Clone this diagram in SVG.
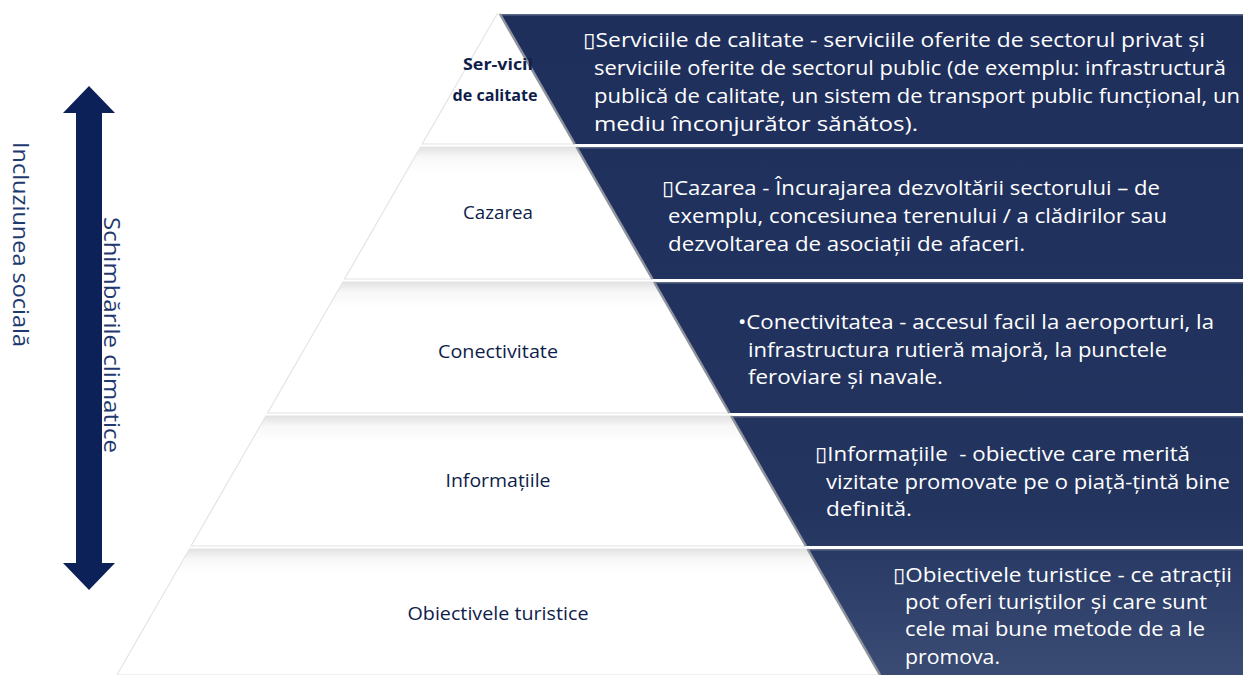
<svg xmlns="http://www.w3.org/2000/svg" width="1243" height="675" viewBox="0 0 1243 675">
<style>
.wb{stroke:#e4e4e4;stroke-width:1.2}
.db{fill:url(#navy)}
.edge{stroke:#8e929c;stroke-width:2.5;fill:none}
.hl{stroke:#5d6888;stroke-width:1.5}
.desc{font-family:"Open Sans","Noto Sans","DejaVu Sans",sans-serif;font-size:20px;fill:#ffffff}
.lbl{font-family:"Open Sans","Noto Sans",sans-serif;font-size:17.5px;fill:#0e1d4a;text-anchor:middle}
.lblb{font-weight:bold;font-size:15.5px}
.side{font-family:"Open Sans","Noto Sans",sans-serif;font-size:22px;fill:#1f3a70}
</style>
<defs>
<linearGradient id="navy" gradientUnits="userSpaceOnUse" x1="0" y1="14" x2="0" y2="675">
<stop offset="0" stop-color="#1f2f5c"/>
<stop offset="0.75" stop-color="#23345f"/>
<stop offset="1" stop-color="#3a4b74"/>
</linearGradient>
<linearGradient id="wfill" x1="0" y1="0" x2="0" y2="1">
<stop offset="0" stop-color="#e2e2e2"/>
<stop offset="0.08" stop-color="#f8f8f8"/>
<stop offset="0.2" stop-color="#ffffff"/>
</linearGradient>
</defs>
<rect width="1243" height="675" fill="#ffffff"/>

<g id="band-servicii">
<polygon class="wb" fill="#ffffff" points="497,14 500,14 574.75,144 422.25,144"/>
<polygon class="db" points="500,14 1243,14 1243,144 574.75,144"/>
<line class="hl" x1="501" y1="14.8" x2="1243" y2="14.8"/>
<line class="edge" x1="500" y1="14" x2="574.75" y2="144"/>
<text class="lbl lblb" x="498" y="70" textLength="70" lengthAdjust="spacingAndGlyphs">Ser-vicii</text>
<text class="lbl lblb" x="495" y="101" textLength="85" lengthAdjust="spacingAndGlyphs">de calitate</text>
<text class="desc" x="583" y="47" textLength="622" lengthAdjust="spacingAndGlyphs">▯Serviciile de calitate - serviciile oferite de sectorul privat și</text>
<text class="desc" x="594" y="75" textLength="632" lengthAdjust="spacingAndGlyphs">serviciile oferite de sectorul public (de exemplu: infrastructură</text>
<text class="desc" x="594" y="103" textLength="646" lengthAdjust="spacingAndGlyphs">publică de calitate, un sistem de transport public funcțional, un</text>
<text class="desc" x="594" y="131" textLength="324" lengthAdjust="spacingAndGlyphs">mediu înconjurător sănătos).</text>
</g>

<g id="band-cazarea">
<polygon class="wb" fill="url(#wfill)" points="420.5,147 576.5,147 652.4,279 344.6,279"/>
<polygon class="db" points="576.5,147 1243,147 1243,279 652.4,279"/>
<line class="hl" x1="578" y1="147.8" x2="1243" y2="147.8"/>
<line class="edge" x1="576.5" y1="147" x2="652.4" y2="279"/>
<text class="lbl" x="498" y="219" textLength="70" lengthAdjust="spacingAndGlyphs">Cazarea</text>
<text class="desc" x="662" y="195" textLength="498" lengthAdjust="spacingAndGlyphs">▯Cazarea - Încurajarea dezvoltării sectorului – de</text>
<text class="desc" x="668" y="223" textLength="499" lengthAdjust="spacingAndGlyphs">exemplu, concesiunea terenului / a clădirilor sau</text>
<text class="desc" x="668" y="251" textLength="357" lengthAdjust="spacingAndGlyphs">dezvoltarea de asociații de afaceri.</text>
</g>

<g id="band-conectivitate">
<polygon class="wb" fill="url(#wfill)" points="342.9,282 654.1,282 729.4,413 267.6,413"/>
<polygon class="db" points="654.1,282 1243,282 1243,413 729.4,413"/>
<line class="hl" x1="656" y1="282.8" x2="1243" y2="282.8"/>
<line class="edge" x1="654.1" y1="282" x2="729.4" y2="413"/>
<text class="lbl" x="498" y="358" textLength="120" lengthAdjust="spacingAndGlyphs">Conectivitate</text>
<text class="desc" x="738" y="329" textLength="476" lengthAdjust="spacingAndGlyphs">•Conectivitatea - accesul facil la aeroporturi, la</text>
<text class="desc" x="748" y="357" textLength="419" lengthAdjust="spacingAndGlyphs">infrastructura rutieră majoră, la punctele</text>
<text class="desc" x="748" y="384" textLength="195" lengthAdjust="spacingAndGlyphs">feroviare și navale.</text>
</g>

<g id="band-informatiile">
<polygon class="wb" fill="url(#wfill)" points="265.85,416 731.15,416 805.9,546 191.1,546"/>
<polygon class="db" points="731.15,416 1243,416 1243,546 805.9,546"/>
<line class="hl" x1="733" y1="416.8" x2="1243" y2="416.8"/>
<line class="edge" x1="731.15" y1="416" x2="805.9" y2="546"/>
<text class="lbl" x="498" y="487" textLength="105" lengthAdjust="spacingAndGlyphs">Informațiile</text>
<text class="desc" x="815" y="461" textLength="375" lengthAdjust="spacingAndGlyphs">▯Informațiile&#160; - obiective care merită</text>
<text class="desc" x="826" y="489" textLength="404" lengthAdjust="spacingAndGlyphs">vizitate promovate pe o piață-țintă bine</text>
<text class="desc" x="826" y="516" textLength="86" lengthAdjust="spacingAndGlyphs">definită.</text>
</g>

<g id="band-obiective">
<polygon class="wb" fill="url(#wfill)" points="189.4,549 807.6,549 880.1,675 116.9,675"/>
<polygon class="db" points="807.6,549 1243,549 1243,675 880.1,675"/>
<line class="hl" x1="809" y1="549.8" x2="1243" y2="549.8"/>
<line class="edge" x1="807.6" y1="549" x2="880.1" y2="675"/>
<text class="lbl" x="498" y="620" textLength="181" lengthAdjust="spacingAndGlyphs">Obiectivele turistice</text>
<text class="desc" x="893" y="582" textLength="339" lengthAdjust="spacingAndGlyphs">▯Obiectivele turistice - ce atracții</text>
<text class="desc" x="905" y="609" textLength="302" lengthAdjust="spacingAndGlyphs">pot oferi turiștilor și care sunt</text>
<text class="desc" x="905" y="636" textLength="300" lengthAdjust="spacingAndGlyphs">cele mai bune metode de a le</text>
<text class="desc" x="905" y="664" textLength="95" lengthAdjust="spacingAndGlyphs">promova.</text>
</g>

<g id="connectors">
<polygon fill="#0b2158" points="89,86 115,113 102,113 102,563 115,563 89,590 63,563 76,563 76,113 63,113"/>
</g>

<g id="label-incluziunea">
<text class="side" transform="translate(13,142) rotate(90)" textLength="205" lengthAdjust="spacingAndGlyphs">Incluziunea socială</text>
</g>
<g id="label-schimbarile">
<text class="side" transform="translate(104,217) rotate(90)" textLength="236" lengthAdjust="spacingAndGlyphs">Schimbările climatice</text>
</g>
</svg>
